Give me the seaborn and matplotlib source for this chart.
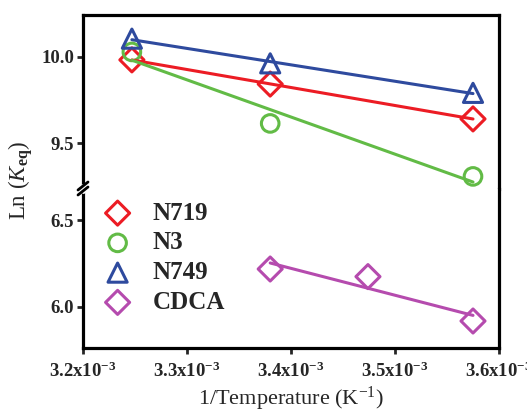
import matplotlib
matplotlib.use("Agg")
import matplotlib.pyplot as plt
from matplotlib.lines import Line2D
import numpy as np
import seaborn as sns

# ---- data ----
x_dye = [3.247e-3, 3.380e-3, 3.575e-3]
x_cdca = [3.380e-3, 3.474e-3, 3.575e-3]
n719 = [9.983, 9.843, 9.641]
n3 = [10.029, 9.615, 9.308]
n749 = [10.106, 9.963, 9.792]
cdca = [6.218, 6.174, 5.917]
series_names = ["N719", "N3", "N749", "CDCA"]
x_ticks = [3.2e-3, 3.3e-3, 3.4e-3, 3.5e-3, 3.6e-3]
x_tick_labels = [r"3.2x10$^{\mathregular{-3}}$", r"3.3x10$^{\mathregular{-3}}$",
                 r"3.4x10$^{\mathregular{-3}}$", r"3.5x10$^{\mathregular{-3}}$",
                 r"3.6x10$^{\mathregular{-3}}$"]
y_ticks_top = [9.5, 10.0]
y_ticks_bot = [6.0, 6.5]
y_tick_labels_top = ["9.5", "10.0"]
y_tick_labels_bot = ["6.0", "6.5"]

sns.set_style("ticks")
plt.rcParams["font.family"] = ["Liberation Serif", "DejaVu Serif"]
plt.rcParams["mathtext.fontset"] = "custom"
plt.rcParams["mathtext.rm"] = "Liberation Serif"
plt.rcParams["mathtext.it"] = "Liberation Serif:italic"
plt.rcParams["mathtext.bf"] = "Liberation Serif:bold"

W, H = 527, 413
fig = plt.figure(figsize=(W / 100, H / 100), dpi=100)
px_l, px_r, px_t, px_b, px_brk = 83, 499, 15, 348.3, 188.5
L = px_l / W
Wd = (px_r - px_l) / W
B = 1 - px_b / H
BRK = 1 - px_brk / H
TOP = 1 - px_t / H
ax_top = fig.add_axes([L, BRK, Wd, TOP - BRK])
ax_bot = fig.add_axes([L, B, Wd, BRK - B])

colors = {"N719": "#EC1C24", "N3": "#62BB46", "N749": "#2E4A9E", "CDCA": "#B54BAE"}
markers = {"N719": "D", "N3": "o", "N749": "^", "CDCA": "D"}
sizes = {"N719": 150, "N3": 160, "N749": 190, "CDCA": 150}
lw = 2.2

plot_sets = [("N719", x_dye, n719, ax_top), ("N3", x_dye, n3, ax_top),
             ("N749", x_dye, n749, ax_top), ("CDCA", x_cdca, cdca, ax_bot)]
for name, xs, ys, ax in plot_sets:
    c = colors[name]
    sns.scatterplot(x=xs, y=ys, ax=ax, marker=markers[name], s=sizes[name],
                    color=c, facecolor="none", edgecolor=c, linewidth=lw,
                    label=name, zorder=3)
    sns.regplot(x=np.array(xs), y=np.array(ys), ax=ax, scatter=False, ci=None,
                color=c, line_kws={"lw": lw, "zorder": 4}, truncate=True)

for ax in (ax_top, ax_bot):
    ax.set_xlim(3.2e-3, 3.6e-3)
    for s in ax.spines.values():
        s.set_linewidth(2.3)
        s.set_color("black")
    ax.tick_params(axis="y", direction="out", length=4.5, width=2.0,
                   labelsize=13.5, pad=2, right=False)
    if ax.get_legend() is not None:
        ax.get_legend().remove()

ax_top.set_ylim(9.238, 10.243)
ax_bot.set_ylim(5.759, 6.684)
ax_top.spines["bottom"].set_visible(False)
ax_bot.spines["top"].set_visible(False)
ax_top.tick_params(axis="x", bottom=False, labelbottom=False, top=False)
ax_top.set_yticks(y_ticks_top, labels=y_tick_labels_top)
ax_bot.set_yticks(y_ticks_bot, labels=y_tick_labels_bot)
ax_bot.set_xticks(x_ticks, labels=x_tick_labels)
ax_bot.tick_params(axis="x", direction="out", length=4.5, width=2.0,
                   labelsize=13.5, pad=5, top=False)
for ax in (ax_top, ax_bot):
    for lab in ax.get_xticklabels() + ax.get_yticklabels():
        lab.set_fontweight("bold")
    ax.set_xlabel("")
    ax.set_ylabel("")

ax_bot.set_xlabel(r"1/Temperature (K$^{\mathregular{-1}}$)", fontsize=16,
                  labelpad=3)
fig.text(21 / W, 1 - 180 / H, r"Ln ($K_{\mathbf{eq}}$)", rotation=90,
         ha="center", va="center", fontsize=16.5)

# legend
h1, l1 = ax_top.get_legend_handles_labels()
h2, l2 = ax_bot.get_legend_handles_labels()
leg = ax_bot.legend(h1 + h2, l1 + l2, loc="upper left",
                    bbox_to_anchor=(-0.019, 1.027), frameon=False,
                    prop={"family": "Liberation Serif", "weight": "bold", "size": 18},
                    handletextpad=0.4, labelspacing=0.27, borderaxespad=0.3,
                    scatterpoints=1)

# axis break mark on the left spine
def fx(p):
    return p / W
def fy(p):
    return 1 - p / H
fig.add_artist(Line2D([fx(px_l), fx(px_l)], [fy(px_brk - 2.5), fy(px_brk + 2.5)],
                      color="white", lw=3.5, zorder=10))
for off in (-2.5, 2.5):
    fig.add_artist(Line2D([fx(px_l - 5), fx(px_l + 5)],
                          [fy(px_brk + off + 4), fy(px_brk + off - 4)],
                          color="black", lw=2.0, zorder=11))

fig.savefig("out.png", dpi=100)
